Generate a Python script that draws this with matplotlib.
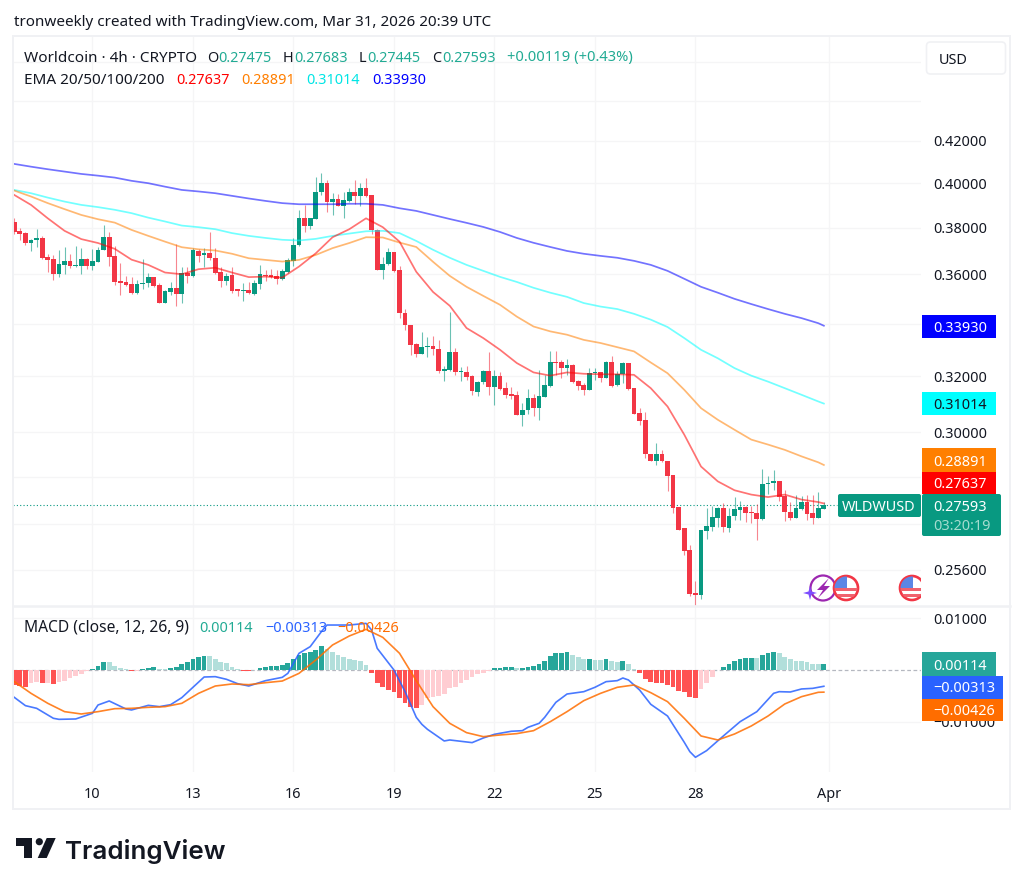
import numpy as np
import matplotlib
matplotlib.use("Agg")
import matplotlib.pyplot as plt
from matplotlib.patches import Rectangle, Circle, Polygon, FancyBboxPatch

# ---------- data ----------
opens = [.3824,.3784,.3776,.3732,.3744,.3754,.3674,.3663,.3603,.3641,
.3656,.3637,.3637,.3663,.3635,.3654,.3704,.3761,.3678,.3571,
.3567,.3560,.3522,.3560,.3565,.3590,.3557,.3485,.3529,.3544,
.3518,.3607,.3594,.3699,.3681,.3689,.3671,.3612,.3572,.3598,
.3538,.3532,.3535,.3520,.3561,.3598,.3597,.3593,.3582,.3612,
.3657,.3725,.3843,.3807,.3840,.3959,.4000,.3916,.3928,.3895,
.3919,.3958,.3943,.3978,.3946,.3790,.3619,.3643,.3694,.3618,
.3445,.3397,.3323,.3285,.3309,.3314,.3304,.3222,.3225,.3292,
.3216,.3217,.3202,.3144,.3178,.3222,.3163,.3202,.3157,.3136,
.3131,.3062,.3078,.3122,.3084,.3126,.3166,.3255,.3255,.3232,
.3242,.3183,.3169,.3151,.3212,.3215,.3196,.3255,.3167,.3208,
.3252,.3157,.3067,.3043,.2927,.2903,.2925,.2903,.2857,.2752,
.2685,.2618,.2492,.2487,.2678,.2690,.2718,.2748,.2687,.2724,
.2744,.2751,.2738,.2734,.2715,.2826,.2828,.2836,.2787,.2735,
.2718,.2746,.2769,.2733,.2718,.27475]
highs = [.3844,.3797,.3780,.3750,.3796,.3764,.3687,.3683,.3704,.3715,
.3687,.3722,.3711,.3668,.3708,.3715,.3812,.3780,.3721,.3647,
.3594,.3589,.3578,.3664,.3608,.3591,.3564,.3534,.3567,.3729,
.3630,.3630,.3711,.3706,.3711,.3779,.3711,.3633,.3608,.3630,
.3542,.3564,.3567,.3575,.3640,.3619,.3622,.3619,.3622,.3671,
.3753,.3879,.3901,.3843,.4028,.4048,.4015,.3957,.3951,.3960,
.3978,.4015,.4000,.4023,.3946,.3793,.3675,.3711,.3694,.3636,
.3459,.3397,.3326,.3367,.3349,.3354,.3336,.3240,.3449,.3306,
.3237,.3240,.3205,.3184,.3225,.3291,.3225,.3215,.3181,.3161,
.3145,.3103,.3154,.3137,.3225,.3206,.3294,.3294,.3260,.3265,
.3246,.3188,.3176,.3233,.3231,.3218,.3256,.3275,.3222,.3255,
.3252,.3157,.3084,.3073,.2927,.2963,.2938,.2903,.2857,.2752,
.2686,.2635,.2528,.2681,.2749,.2754,.2752,.2765,.2749,.2784,
.2772,.2754,.2757,.2763,.2875,.2853,.2871,.2836,.2808,.2767,
.2791,.2786,.2792,.2790,.2801,.27683]
lows = [.3772,.3744,.3725,.3697,.3718,.3664,.3612,.3575,.3591,.3603,
.3629,.3633,.3601,.3622,.3619,.3651,.3701,.3637,.3557,.3514,
.3553,.3520,.3518,.3539,.3550,.3550,.3483,.3483,.3514,.3472,
.3485,.3564,.3589,.3654,.3633,.3659,.3603,.3547,.3556,.3523,
.3510,.3493,.3520,.3514,.3539,.3571,.3587,.3561,.3578,.3608,
.3636,.3721,.3783,.3793,.3837,.3947,.3871,.3855,.3894,.3843,
.3916,.3904,.3894,.3935,.3772,.3619,.3582,.3640,.3610,.3425,
.3378,.3281,.3272,.3285,.3272,.3281,.3212,.3182,.3222,.3206,
.3185,.3188,.3131,.3129,.3173,.3133,.3097,.3151,.3121,.3117,
.3059,.3021,.3065,.3058,.3042,.3124,.3163,.3206,.3193,.3206,
.3175,.3149,.3131,.3149,.3188,.3179,.3194,.3163,.3166,.3175,
.3151,.3065,.3027,.2913,.2901,.2890,.2900,.2802,.2733,.2679,
.2605,.2484,.2458,.2476,.2652,.2676,.2689,.2674,.2673,.2710,
.2712,.2704,.2702,.2650,.2712,.2795,.2808,.2771,.2707,.2710,
.2716,.2744,.2710,.2698,.2717,.27445]
closes = [.3783,.3774,.3731,.3747,.3754,.3671,.3662,.3603,.3643,.3656,
.3635,.3641,.3663,.3635,.3656,.3704,.3761,.3675,.3568,.3565,
.3558,.3522,.3560,.3565,.3589,.3553,.3485,.3531,.3544,.3518,
.3607,.3594,.3701,.3678,.3689,.3667,.3608,.3571,.3595,.3531,
.3532,.3537,.3523,.3564,.3600,.3594,.3590,.3583,.3615,.3659,
.3726,.3843,.3807,.3843,.3961,.4000,.3916,.3928,.3897,.3925,
.3958,.3943,.3977,.3943,.3790,.3619,.3644,.3694,.3615,.3445,
.3396,.3320,.3285,.3312,.3314,.3303,.3222,.3228,.3292,.3216,
.3220,.3197,.3145,.3179,.3222,.3163,.3202,.3155,.3134,.3129,
.3062,.3079,.3122,.3084,.3127,.3169,.3255,.3252,.3232,.3242,
.3181,.3166,.3151,.3212,.3216,.3196,.3255,.3166,.3209,.3252,
.3154,.3065,.3040,.2925,.2903,.2925,.2902,.2854,.2749,.2681,
.2615,.2489,.2487,.2679,.2692,.2721,.2749,.2689,.2725,.2746,
.2751,.2734,.2733,.2715,.2827,.2830,.2837,.2784,.2735,.2718,
.2748,.2769,.2731,.2718,.2748,.27593]

line_bars = list(range(0, 145, 3)) + [145]
ema20 = [.3946,.3901,.3841,.3786,.3750,.3733,.3708,.3662,.3640,.3608,.3601,.3622,.3628,.3608,.3589,.3591,.3587,
.3633,.3689,.3758,.3793,.3841,.3802,.3739,.3611,.3528,.3472,.3384,.3345,.3300,.3250,.3215,.3203,.3215,.3210,
.3208,.3208,.3206,.3157,.3091,.2992,.2884,.2835,.2806,.2792,.2784,.2792,.2776,.2768,.27637]
ema50 = [.3966,.3939,.3909,.3882,.3856,.3837,.3822,.3790,.3764,.3739,.3715,.3706,.3701,.3687,.3668,.3661,.3654,
.3661,.3682,.3711,.3733,.3758,.3757,.3735,.3716,.3653,.3594,.3549,.3512,.3476,.3429,.3390,.3371,.3358,.3338,
.3326,.3310,.3294,.3252,.3212,.3151,.3085,.3044,.3009,.2975,.2958,.2940,.2918,.2898,.28891]
ema100 = [.3969,.3954,.3934,.3916,.3901,.3891,.3879,.3864,.3844,.3827,.3809,.3802,.3793,.3776,.3764,.3755,.3747,
.3744,.3751,.3764,.3774,.3784,.3786,.3776,.3742,.3704,.3670,.3640,.3615,.3590,.3569,.3545,.3525,.3508,.3483,
.3469,.3459,.3440,.3417,.3388,.3345,.3300,.3268,.3231,.3203,.3181,.3157,.3133,.3109,.31014]
ema200 = [.4090,.4077,.4065,.4054,.4043,.4035,.4026,.4011,.4000,.3984,.3969,.3962,.3954,.3942,.3930,.3919,.3909,
.3904,.3904,.3904,.3906,.3906,.3901,.3886,.3874,.3856,.3838,.3821,.3803,.3781,.3755,.3734,.3716,.3699,.3687,
.3678,.3670,.3657,.3640,.3615,.3582,.3549,.3525,.3500,.3479,.3459,.3440,.3423,.3403,.33930]

hist = [-.00280,-.00310,-.00325,-.00244,-.00240,-.00258,-.00244,-.00269,-.00224,-.00205,
-.00160,-.00115,-.00077,-.00026,.00019,.00083,.00154,.00147,.00077,.00038,
.00026,-.00019,-.00013,.00013,.00038,.00051,.00019,.00016,.00038,.00051,
.00109,.00154,.00218,.00250,.00269,.00263,.00218,.00160,.00128,.00064,
.00019,-.00013,-.00019,-.00006,.00045,.00058,.00077,.00083,.00090,.00128,
.00205,.00295,.00333,.00346,.00391,.00462,.00397,.00353,.00295,.00250,
.00212,.00186,.00167,.00103,-.00051,-.00244,-.00333,-.00385,-.00417,-.00545,
-.00628,-.00705,-.00724,-.00673,-.00532,-.00526,-.00500,-.00462,-.00353,-.00321,
-.00244,-.00192,-.00128,-.00077,-.00051,-.00013,.00038,.00045,.00051,.00064,
.00038,.00041,.00064,.00083,.00122,.00173,.00269,.00327,.00329,.00340,
.00288,.00250,.00212,.00214,.00199,.00192,.00212,.00173,.00154,.00167,
.00122,.00026,-.00058,-.00173,-.00237,-.00256,-.00258,-.00282,-.00327,-.00397,
-.00430,-.00513,-.00532,-.00372,-.00244,-.00128,-.00001,.00051,.00115,.00167,
.00212,.00230,.00232,.00226,.00288,.00321,.00340,.00333,.00256,.00205,
.00173,.00172,.00160,.00122,.00112,.00114]

macd_bars = [0,2,4,7,8,11,14,15,17,20,21,24,26,28,30,32,34,36,38,40,42,45,48,49,51,53,55,56,60,63,64,65,68,70,72,
73,74,77,78,82,84,86,89,91,92,94,95,97,99,102,104,106,108,109,110,112,114,117,120,121,122,124,127,130,133,136,137,139,141,143,145]
macd_line = [-.00526,-.00686,-.00737,-.00929,-.00949,-.00942,-.00833,-.00673,-.00596,-.00750,-.00769,-.00680,-.00705,
-.00667,-.00532,-.00333,-.00135,-.00128,-.00179,-.00263,-.00308,-.00205,-.00141,-.00064,.00321,.00449,.00737,.00865,
.00865,.00897,.00769,.00417,.00000,-.00417,-.00910,
-.01045,-.01141,-.01365,-.01346,-.01397,-.01308,-.01237,-.01179,-.01167,-.01103,-.01026,-.00910,-.00622,-.00462,-.00417,
-.00333,-.00224,-.00205,-.00154,-.00192,-.00385,-.00660,-.00885,-.01391,-.01571,-.01679,-.01551,-.01269,-.00994,-.00801,
-.00449,-.00417,-.00423,-.00365,-.00353,-.00313]
signal_line = [-.00224,-.00449,-.00641,-.00801,-.00846,-.00801,-.00744,-.00737,-.00718,-.00705,-.00641,-.00449,
-.00308,-.00269,-.00282,-.00244,-.00212,-.00064,.00192,.00481,.00654,.00782,.00628,.00321,-.00205,-.00705,
-.01026,-.01205,-.01282,-.01250,-.01224,-.01167,-.00994,-.00801,-.00590,-.00449,-.00333,-.00288,-.00436,
-.00609,-.00930,-.01269,-.01346,-.01231,-.01077,-.00885,-.00654,-.00513,-.00429,-.00426]

price_ticks = [.42,.40,.38,.36,.32,.30,.256]
price_labels = ["0.42000","0.40000","0.38000","0.36000","0.32000","0.30000","0.25600"]
price_grid = [.46,.44,.42,.40,.38,.36,.34,.32,.30,.285,.27,.256]
day_ticks = [10,13,16,19,22,25,28,32]
day_labels = ["10","13","16","19","22","25","28","Apr"]
last_price = 0.27593

# ---------- style ----------
W, H = 1024, 889
FONT = "Noto Sans"
plt.rcParams["font.family"] = [FONT, "DejaVu Sans"]
INK = "#131722"
GRID = "#f5f5f6"
EDGE = "#f0f1f4"
UP, DOWN = "#089981", "#f23645"
FS = 10.4

def px_axes(l, t, r, b, **kw):
    return fig.add_axes([l / W, 1 - b / H, (r - l) / W, (b - t) / H], **kw)

fig = plt.figure(figsize=(W / 100, H / 100), dpi=100, facecolor="white")

day0 = 7 + 4 / 6
days = day0 + np.arange(len(opens)) / 6
to_day = lambda bars: day0 + np.asarray(bars) / 6
xlim = (day0 - 0.23 / 6, day0 + 162.4 / 6)

# ---------- price pane ----------
ax = px_axes(13, 36, 921, 606)
ax.set_yscale("log")
o, h, l, c = map(np.array, (opens, highs, lows, closes))
cols = np.where(c >= o, UP, DOWN)
ax.vlines(days, l, h, colors=cols, linewidth=0.8, alpha=0.6, zorder=3)
ax.bar(days, np.maximum(np.abs(c - o), 0.00025), bottom=np.minimum(o, c), width=0.85 / 6,
       color=cols, linewidth=0, zorder=3)
for vals, col in [(ema200, "#0000ff"), (ema100, "#00ffff"), (ema50, "#ff7f00"), (ema20, "#ff0000")]:
    ax.plot(to_day(line_bars), vals, color=col, lw=1.25, alpha=0.55, zorder=4)
ax.plot([xlim[0], day0 + 147.3 / 6], [last_price, last_price], color=UP, lw=0.8, ls=(0, (1, 2)), zorder=2)
ax.set_xlim(*xlim)
ax.set_ylim(0.2455, 0.4741)
for p in price_grid:
    ax.axhline(p, color=GRID, lw=1, zorder=0)
for d in day_ticks:
    ax.axvline(d, color=GRID, lw=1, zorder=0)
ax.yaxis.tick_right()
ax.set_yticks(price_ticks, price_labels)
ax.minorticks_off()
ax.tick_params(axis="y", length=0, pad=8.6, labelsize=FS, labelcolor=INK)
ax.set_xticks([])
for s in ax.spines.values():
    s.set_visible(False)

# ---------- MACD pane ----------
am = px_axes(13, 606, 921, 772)
hv = np.array(hist)
hcol = []
for i, v in enumerate(hv):
    prev = hv[i - 1] if i else v
    if v >= 0:
        hcol.append("#26a69a" if v > prev else "#b2dfdb")
    else:
        hcol.append("#ff5252" if v <= prev else "#ffcdd2")
am.bar(days, hv, width=0.85 / 6, color=hcol, linewidth=0, zorder=2)
am.axhline(0, color="#b5b8c0", lw=0.9, ls=(0, (3, 2)), zorder=1)
am.plot(to_day(macd_bars), macd_line, color="#2962ff", lw=1.2, alpha=0.85, zorder=3)
am.plot(to_day(line_bars), signal_line, color="#ff6d00", lw=1.2, alpha=0.85, zorder=4)
am.set_xlim(*xlim)
am.set_ylim(-0.01962, 0.01231)
for yv in (-0.01, 0.01):
    am.axhline(yv, color=GRID, lw=1, zorder=0)
for d in day_ticks:
    am.axvline(d, color=GRID, lw=1, zorder=0)
am.yaxis.tick_right()
am.set_yticks([0.01, -0.01], ["0.01000", "\u22120.01000"])
am.tick_params(axis="y", length=0, pad=8.6, labelsize=FS, labelcolor=INK)
am.set_xticks(day_ticks, day_labels)
am.tick_params(axis="x", length=0, pad=11, labelsize=FS, labelcolor=INK)
for s in am.spines.values():
    s.set_visible(False)

# ---------- overlay in pixel coordinates ----------
ov = fig.add_axes([0, 0, 1, 1], facecolor="none", zorder=10)
ov.set_xlim(0, W)
ov.set_ylim(H, 0)
ov.axis("off")

def T(x, y, s, color=INK, size=FS, ha="left", **kw):
    ov.text(x, y, s, color=color, fontsize=size, ha=ha, va="center_baseline", **kw)

def box(l, t, r, b, col):
    ov.add_patch(Rectangle((l, t), r - l, b - t, fc=col, ec="none"))

# frame
ov.add_patch(Rectangle((13, 36), 997, 773, fc="none", ec=EDGE, lw=1.4))
ov.plot([13, 1010], [606, 606], color=EDGE, lw=1.8)

# title and legends
T(14, 20, "tronweekly created with TradingView.com, Mar 31, 2026 20:39 UTC", size=10.95)
T(24, 56, "Worldcoin \u00b7 4h \u00b7 CRYPTO", size=11)
LG = "#22ab94"
for x, s, col in [(207, "O", INK), (218, "0.27475", LG), (283, "H", INK), (294, "0.27683", LG),
                  (359, "L", INK), (367, "0.27445", LG), (432, "C", INK), (442, "0.27593", LG)]:
    T(x, 56, s, col)
T(507, 56, "+0.00119 (+0.43%)", LG, size=10.6)
T(24, 79, "EMA 20/50/100/200", size=11)
for x, s, col in [(176, "0.27637", "#ff0000"), (241, "0.28891", "#ff7f00"),
                  (306, "0.31014", "#00e5e5"), (372, "0.33930", "#0000ff")]:
    T(x, 79, s, col)
T(24, 626, "MACD (close, 12, 26, 9)", size=11.2)
for x, s, col in [(199, "0.00114", LG), (265, "\u22120.00313", "#2962ff"),
                  (337, "\u22120.00426", "#ff6d00")]:
    T(x, 626, s, col)

# USD button
ov.add_patch(FancyBboxPatch((926.5, 42), 79, 32, boxstyle="round,pad=0,rounding_size=4",
                            fc="white", ec=EDGE, lw=1.2))
T(939, 58, "USD")

# price labels
box(922, 315, 996, 338, "#0000ff"); T(933, 326.5, "0.33930", "white")
box(922, 392, 996, 415, "#00ffff"); T(933, 403.5, "0.31014", "#131722")
box(922, 448, 996, 472, "#ff7f00"); T(933, 460, "0.28891", "white")
box(922, 472, 996, 494, "#ff0000"); T(933, 482, "0.27637", "white")
ov.add_patch(FancyBboxPatch((838, 494), 83, 23, boxstyle="round,pad=0,rounding_size=2", fc=UP, ec="none"))
T(842, 505.5, "WLDWUSD", "white")
ov.add_patch(FancyBboxPatch((922, 494), 79, 42, boxstyle="round,pad=0,rounding_size=2", fc=UP, ec="none"))
T(933, 505.5, "0.27593", "white")
T(933, 524, "03:20:19", "#a5dccf")

# MACD labels
box(922, 652, 996, 675.5, "#26a69a"); T(933, 664, "0.00114", "white")
box(922, 675.5, 1003, 698.5, "#2962ff"); T(933, 687, "\u22120.00313", "white")
box(922, 698.5, 1003, 721, "#ff6d00"); T(933, 709.5, "\u22120.00426", "white")

# event icons
ov.add_patch(Circle((823, 588), 12.5, fc="white", ec="#9c27b0", lw=1.6))
ov.add_patch(Polygon([(829, 578), (817, 590), (823, 590), (818, 598), (830, 586), (824, 586)], fc="#9c27b0", ec="none"))
ov.add_patch(Polygon([(810, 586), (811.5, 591.5), (817, 593), (811.5, 594.5), (810, 600), (808.5, 594.5), (803, 593), (808.5, 591.5)],
                     fc="#7c4dff", ec="none"))
for cx in (846, 912):
    clip = Circle((cx, 588), 11.5, transform=ov.transData)
    ov.add_patch(Circle((cx, 588), 12, fc="white", ec="#f23645", lw=1.9))
    for yy, hh in ((588, 3.3), (594, 3.3)):
        r = Rectangle((cx - 12, yy), 24, hh, fc="#f0616d", ec="none")
        ov.add_patch(r); r.set_clip_path(clip)
    r = Rectangle((cx - 12, 576), 12.5, 12, fc="#5b86e5", ec="none")
    ov.add_patch(r); r.set_clip_path(clip)
box(921, 574, 932, 603, "white")

# logo
LOGO = "#131722"
ov.add_patch(Polygon([(16, 838), (32, 838), (32, 858), (24, 858), (24, 846), (16, 846)], fc=LOGO, ec="none"))
ov.add_patch(Circle((39.3, 841.7), 3.6, fc=LOGO, ec="none"))
ov.add_patch(Polygon([(46.7, 838), (55.7, 838), (46.7, 858), (37.7, 858)], fc=LOGO, ec="none"))
T(64.5, 849.5, "TradingView", LOGO, size=18.7, fontweight="semibold", family=["Inter", "DejaVu Sans"])

fig.savefig("out.png", dpi=100, facecolor="white")
